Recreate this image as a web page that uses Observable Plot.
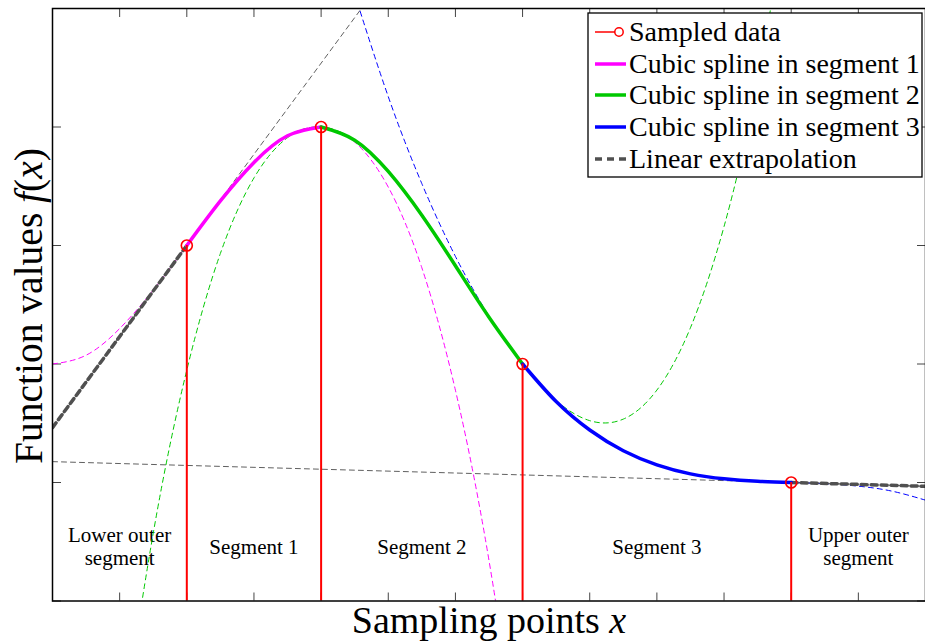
<!DOCTYPE html>
<html><head><meta charset="utf-8">
<script src="https://cdn.jsdelivr.net/npm/d3@7"></script>
<script src="https://cdn.jsdelivr.net/npm/@observablehq/plot@0.6"></script>
<style>body{margin:0;background:#fff;}</style>
</head><body><div id="chart"></div>
<script>
// Sampled data
const sampleX = [1, 2, 3.5, 5.5];
const sampleY = [3, 4, 2, 1];

// Axis ticks (no labels)
const xTicks = [0, 0.5, 1, 1.5, 2, 2.5, 3, 3.5, 4, 4.5, 5, 5.5, 6, 6.5];
const yTicks = [0, 1, 2, 3, 4, 5];

// Cubic spline piece of segment 1
const seg1DashX = [0, 0.25, 0.5, 0.75, 1, 1.25, 1.5, 1.75, 2, 2.25, 2.5, 2.75, 3, 3.25, 3.5];
const seg1DashY = [2.000, 2.074, 2.299, 2.624, 3.000, 3.376, 3.701, 3.926, 4.000, 3.873, 3.493, 2.812, 1.779, 0.342, -1.547];
const seg1X = [1, 1.25, 1.5, 1.75, 2];
const seg1Y = [3.000, 3.376, 3.701, 3.926, 4.000];

// Cubic spline piece of segment 2
const seg2DashX = [0.5, 0.75, 1, 1.25, 1.5, 1.75, 2, 2.25, 2.5, 2.75, 3, 3.25, 3.5, 3.75, 4, 4.25, 4.5, 4.75, 5, 5.25, 5.5];
const seg2DashY = [-1.248, 0.571, 1.949, 2.933, 3.570, 3.910, 4.000, 3.889, 3.625, 3.255, 2.829, 2.395, 2.000, 1.692, 1.522, 1.535, 1.780, 2.306, 3.160, 4.392, 6.049];
const seg2X = [2, 2.25, 2.5, 2.75, 3, 3.25, 3.5];
const seg2Y = [4.000, 3.889, 3.625, 3.255, 2.829, 2.395, 2.000];

// Cubic spline piece of segment 3
const seg3DashX = [2.25, 2.5, 2.75, 3, 3.25, 3.5, 3.75, 4, 4.25, 4.5, 4.75, 5, 5.25, 5.5, 5.75, 6, 6.25, 6.5];
const seg3DashY = [5.121, 4.256, 3.522, 2.908, 2.405, 2.000, 1.683, 1.443, 1.268, 1.149, 1.073, 1.031, 1.010, 1.000, 0.990, 0.969, 0.927, 0.851];
const seg3X = [3.5, 3.75, 4, 4.25, 4.5, 4.75, 5, 5.25, 5.5];
const seg3Y = [2.000, 1.683, 1.443, 1.268, 1.149, 1.073, 1.031, 1.010, 1.000];

// Tangent lines (thin dashed) and linear extrapolation (thick dashed)
const tanLowX = [0, 2.3];
const tanLowY = [1.463, 5.0];
const tanUpX = [0, 6.5];
const tanUpY = [1.176, 0.968];
const extLowX = [0, 1];
const extLowY = [1.463, 3];
const extUpX = [5.5, 6.5];
const extUpY = [1, 0.968];

// Segment annotations
const segLabels = ["Lower outer\nsegment", "Segment 1", "Segment 2", "Segment 3", "Upper outer\nsegment"];
const segLabelX = [0.5, 1.5, 2.75, 4.5, 6.0];
const segLabelY = [0.46, 0.46, 0.46, 0.46, 0.46];

// Legend
const legendLabels = ["Sampled data", "Cubic spline in segment 1", "Cubic spline in segment 2", "Cubic spline in segment 3", "Linear extrapolation"];

const pts = (X, Y) => X.map((x, i) => ({x, y: Y[i]}));
const samples = pts(sampleX, sampleY);
const labelsData = segLabels.map((t, i) => ({t, x: segLabelX[i], y: segLabelY[i]}));

const MAG = "#ff00ff", GRN = "#00c800", BLU = "#0000ff", RED = "#ff0000", GRY = "#505050";

const thinDash = (X, Y, c) => Plot.line(pts(X, Y), {x: "x", y: "y", stroke: c, strokeWidth: 1, strokeDasharray: "5,4", curve: "natural", clip: true});
const solid = (X, Y, c) => Plot.line(pts(X, Y), {x: "x", y: "y", stroke: c, strokeWidth: 3.5, curve: "natural", clip: true});

const chart = Plot.plot({
  width: 925, height: 644,
  marginLeft: 52, marginRight: 0, marginTop: 8, marginBottom: 43.5,
  x: {domain: [0, 6.5]},
  y: {domain: [0, 5]},
  style: {fontFamily: "'Liberation Serif', 'Times New Roman', serif", background: "white", color: "black"},
  marks: [
    Plot.axisX({ticks: xTicks, anchor: "bottom", tickSize: -8, tickFormat: () => "", label: null, stroke: "#444"}),
    Plot.axisX({ticks: xTicks, anchor: "top", tickSize: -8, tickFormat: () => "", label: null, stroke: "#444"}),
    Plot.axisY({ticks: yTicks, anchor: "left", tickSize: -9, tickFormat: () => "", label: null, stroke: "#444"}),
    Plot.axisY({ticks: yTicks, anchor: "right", tickSize: -9, tickFormat: () => "", label: null, stroke: "#444"}),
    Plot.text(labelsData, {x: "x", y: "y", text: "t", fontSize: 21, lineHeight: 1.1, fill: "black"}),
    Plot.line(pts(tanLowX, tanLowY), {x: "x", y: "y", stroke: "#606060", strokeWidth: 1, strokeDasharray: "5,4", clip: true}),
    Plot.line(pts(tanUpX, tanUpY), {x: "x", y: "y", stroke: "#606060", strokeWidth: 1, strokeDasharray: "5,4", clip: true}),
    thinDash(seg1DashX, seg1DashY, MAG),
    thinDash(seg2DashX, seg2DashY, GRN),
    thinDash(seg3DashX, seg3DashY, BLU),
    Plot.line(pts(extLowX, extLowY), {x: "x", y: "y", stroke: GRY, strokeWidth: 3.5, strokeDasharray: "6,4", clip: true}),
    Plot.line(pts(extUpX, extUpY), {x: "x", y: "y", stroke: GRY, strokeWidth: 3.5, strokeDasharray: "6,4", clip: true}),
    solid(seg1X, seg1Y, MAG),
    solid(seg2X, seg2Y, GRN),
    solid(seg3X, seg3Y, BLU),
    Plot.ruleX(samples, {x: "x", y1: 0, y2: "y", stroke: RED, strokeWidth: 2}),
    Plot.dot(samples, {x: "x", y: "y", r: 5.5, stroke: RED, strokeWidth: 1.6, fill: "none"}),
    Plot.frame({stroke: "black", strokeWidth: 1.5})
  ]
});

const svg = d3.select(chart);
// X axis label
const xl = svg.append("text").attr("x", 489).attr("y", 633).attr("text-anchor", "middle")
  .attr("font-size", 38).attr("fill", "black").attr("font-family", "'Liberation Serif', serif");
xl.append("tspan").text("Sampling points ");
xl.append("tspan").attr("font-style", "italic").text("x");
// Y axis label
const yl = svg.append("text").attr("transform", "translate(42,306) rotate(-90)").attr("text-anchor", "middle")
  .attr("font-size", 39.5).attr("fill", "black").attr("font-family", "'Liberation Serif', serif");
yl.append("tspan").text("Function values ");
yl.append("tspan").attr("font-style", "italic").text("f");
yl.append("tspan").text("(");
yl.append("tspan").attr("font-style", "italic").text("x");
yl.append("tspan").text(")");

// Legend
const lg = svg.append("g").attr("font-family", "'Liberation Serif', serif").attr("text-anchor", "start");
lg.append("rect").attr("x", 588).attr("y", 13).attr("width", 334).attr("height", 164)
  .attr("fill", "white").attr("stroke", "black").attr("stroke-width", 1.3);
const rowY = [32, 64, 95, 127, 159];
const sw = [
  {c: RED, w: 1.5, d: null},
  {c: MAG, w: 3.5, d: null},
  {c: GRN, w: 3.5, d: null},
  {c: BLU, w: 3.5, d: null},
  {c: GRY, w: 3.5, d: "7,5"}
];
legendLabels.forEach((lab, i) => {
  const y = rowY[i];
  const ln = lg.append("line").attr("x1", 595).attr("x2", 626).attr("y1", y).attr("y2", y)
    .attr("stroke", sw[i].c).attr("stroke-width", sw[i].w);
  if (sw[i].d) ln.attr("stroke-dasharray", sw[i].d);
  if (i === 0) {
    ln.attr("x2", 615);
    lg.append("circle").attr("cx", 619).attr("cy", y).attr("r", 4.2).attr("fill", "none")
      .attr("stroke", RED).attr("stroke-width", 1.5);
  }
  lg.append("text").attr("x", 629).attr("y", y + 9).attr("text-anchor", "start")
    .attr("font-size", 28).attr("fill", "black").text(lab);
});

document.getElementById("chart").appendChild(chart);
</script>
</body></html>
